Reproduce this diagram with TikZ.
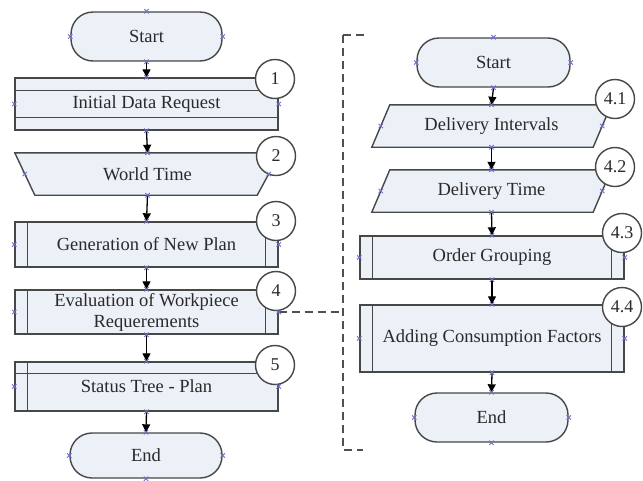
\documentclass[tikz,border=0pt]{standalone}
\usepackage{fontspec}
\setmainfont{Liberation Serif}
\usetikzlibrary{arrows.meta,backgrounds}

\definecolor{shapefill}{HTML}{ECF0F7}
\definecolor{edge}{HTML}{474747}
\definecolor{ink}{HTML}{2A2A2A}
\definecolor{cpt}{HTML}{6E6EC8}
\definecolor{dashc}{HTML}{505050}

\begin{document}
\begin{tikzpicture}[x=1pt,y=-1pt,
  every node/.style={font=\fontsize{18.5}{21}\selectfont, text=ink},
  block/.style={rectangle, draw=edge, fill=shapefill, line width=1.4pt, inner sep=0pt},
  term/.style={block, rounded corners=22pt},
  slot/.style={rectangle, inner sep=0pt},
  outline/.style={draw=edge, fill=shapefill, line width=1.4pt},
  innerline/.style={draw=edge, line width=1.4pt},
  badge/.style={circle, draw=edge, fill=white, line width=1.4pt, minimum size=39pt, inner sep=0pt, font=\fontsize{18}{20}\selectfont},
  flow/.style={draw=black, line width=1.3pt, -{Triangle[length=8pt,width=8pt]}},
  link/.style={draw=dashc, line width=1.8pt, dash pattern=on 8pt off 5pt},
  cp/.style={draw=cpt, line width=0.8pt},
]
\useasboundingbox (0,0) rectangle (643,480);

% ---------- main flow ----------
\node[term, minimum width=151pt, minimum height=49pt] (s1) at (146.5,36.5) {Start};
\node[block, minimum width=263pt, minimum height=52pt] (b1) at (146.5,104) {Initial Data Request};
\node[slot, minimum width=265pt, minimum height=42pt] (b2) at (147.5,174) {World Time};
\node[block, minimum width=263pt, minimum height=45pt] (b3) at (146.5,244.5) {Generation of New Plan};
\node[block, minimum width=263pt, minimum height=44pt, align=center] (b4) at (146.5,312) {Evaluation of Workpiece\\Requerements};
\node[block, minimum width=263pt, minimum height=49pt] (b5) at (146.5,386.5) {Status Tree - Plan};
\node[term, minimum width=152pt, minimum height=45pt] (e1) at (146,455.5) {End};

% ---------- sub flow of step 4 ----------
\node[term, minimum width=153pt, minimum height=49pt] (s2) at (493.5,62.5) {Start};
\node[slot, minimum width=239pt, minimum height=42pt] (d1) at (491.5,126) {Delivery Intervals};
\node[slot, minimum width=239pt, minimum height=42pt] (d2) at (491.5,191) {Delivery Time};
\node[block, minimum width=264pt, minimum height=43pt] (d3) at (492,257.5) {Order Grouping};
\node[block, minimum width=264pt, minimum height=67pt] (d4) at (492,338.5) {Adding Consumption Factors};
\node[term, minimum width=153pt, minimum height=49pt] (e2) at (491.5,417.5) {End};

% slanted outlines behind the text
\begin{pgfonlayer}{background}
  \path[outline] (b2.north west) -- (b2.north east) -- ([xshift=-23pt]b2.south east) -- ([xshift=20pt]b2.south west) -- cycle;
  \path[outline] ([xshift=18pt]d1.north west) -- (d1.north east) -- ([xshift=-18pt]d1.south east) -- (d1.south west) -- cycle;
  \path[outline] ([xshift=18pt]d2.north west) -- (d2.north east) -- ([xshift=-18pt]d2.south east) -- (d2.south west) -- cycle;
\end{pgfonlayer}

% inner rules of the process boxes
\draw[innerline] ([yshift=-13pt]b1.north west) -- ([yshift=-13pt]b1.north east);
\draw[innerline] ([yshift=13pt]b1.south west) -- ([yshift=13pt]b1.south east);
\foreach \n in {b3,b4} {
  \draw[innerline] ([xshift=13pt]\n.north west) -- ([xshift=13pt]\n.south west);
  \draw[innerline] ([xshift=-13pt]\n.north east) -- ([xshift=-13pt]\n.south east);
}
\draw[innerline] ([xshift=13pt]b5.north west) -- ([xshift=13pt]b5.south west);
\draw[innerline] ([yshift=-12pt]b5.north west) -- ([yshift=-12pt]b5.north east);
\foreach \n in {d3,d4} {
  \draw[innerline] ([xshift=13pt]\n.north west) -- ([xshift=13pt]\n.south west);
  \draw[innerline] ([xshift=-13pt]\n.north east) -- ([xshift=-13pt]\n.south east);
}

% connectors
\draw[flow] (s1.south) -- (b1.north);
\draw[flow] (b1.south) -- (b2.north);
\draw[flow] (b2.south) -- (b3.north);
\draw[flow] (b3.south) -- (b4.north);
\draw[flow] (b4.south) -- (b5.north);
\draw[flow] (b5.south) -- (e1.north);
\draw[flow] (s2.south) -- (d1.north);
\draw[flow] (d1.south) -- (d2.north);
\draw[flow] (d2.south) -- (d3.north);
\draw[flow] (d3.south) -- (d4.north);
\draw[flow] (d4.south) -- (e2.north);

% dashed bracket tying step 4 to its sub flow
\coordinate (brk) at (343,312);
\draw[link] (b4.east) -- (brk);
\draw[link] (343,35) -- (368,35);
\draw[link] (343,35) -- (343,450) -- (363,450);

% step numbers
\node[badge] (n1) at (275,79) {1};
\node[badge] (n2) at (276,156) {2};
\node[badge] (n3) at (276,221) {3};
\node[badge] (n4) at (276,291) {4};
\node[badge] (n5) at (275,365) {5};
\node[badge] (n41) at (615,99) {4.1};
\node[badge] (n42) at (615,167) {4.2};
\node[badge] (n43) at (622,233) {4.3};
\node[badge] (n44) at (622,307) {4.4};

% connection point marks
\foreach \p/\s in {s1.north/0,s1.south/0,s1.west/0,s1.east/0,
                b1.north/0,b1.south/0,b1.west/0,b1.east/0,
                b2.north/0,b2.south/0,b2.west/10,b2.east/-11.5,
                b3.north/0,b3.south/0,b3.west/0,b3.east/0,
                b4.north/0,b4.south/0,b4.west/0,b4.east/0,
                b5.north/0,b5.south/0,b5.west/0,b5.east/0,
                e1.north/0,e1.south/0,e1.west/0,e1.east/0,
                s2.north/0,s2.south/0,s2.west/0,s2.east/0,
                d1.north/0,d1.south/0,d1.west/9,d1.east/-9,
                d2.north/0,d2.south/0,d2.west/9,d2.east/-9,
                d3.north/0,d3.south/0,d3.west/0,d3.east/0,
                d4.north/0,d4.south/0,d4.west/0,d4.east/0,
                e2.north/0,e2.south/0,e2.west/0,e2.east/0} {
  \draw[cp] ([xshift=\s pt]\p) +(-2.2pt,-2.2pt) -- +(2.2pt,2.2pt) +(-2.2pt,2.2pt) -- +(2.2pt,-2.2pt);
}
\end{tikzpicture}
\end{document}
